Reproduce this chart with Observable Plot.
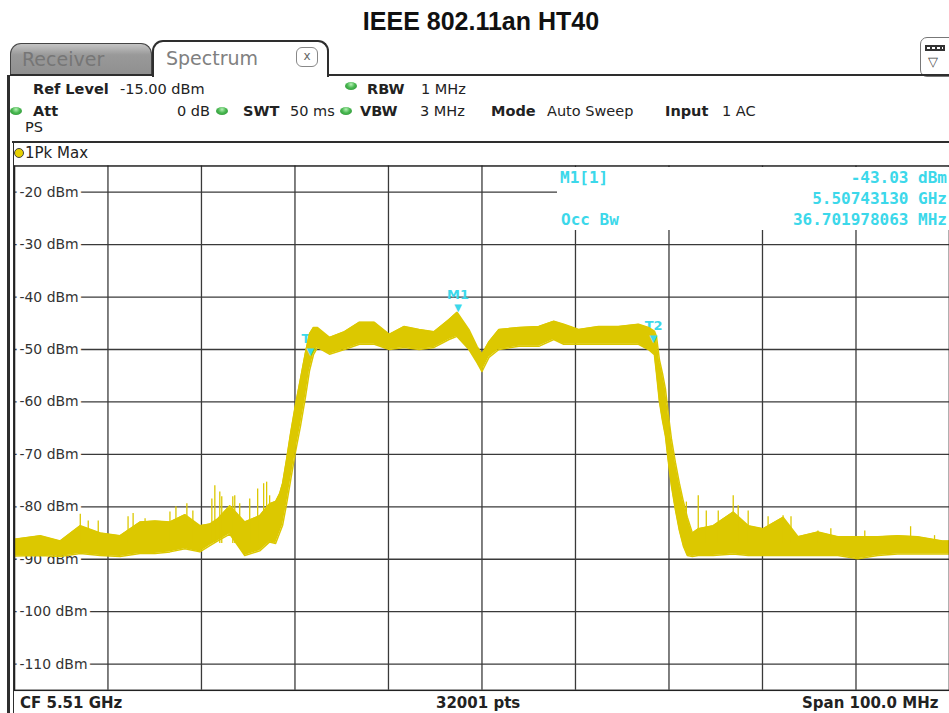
<!DOCTYPE html>
<html><head><meta charset="utf-8">
<script src="https://cdn.jsdelivr.net/npm/d3@7"></script>
<script src="https://cdn.jsdelivr.net/npm/@observablehq/plot@0.6"></script>
<style>
html,body{margin:0;padding:0;background:#fff;overflow:hidden;}
#wrap{position:relative;width:949px;height:713px;overflow:hidden;font-family:"DejaVu Sans",sans-serif;background:#fff;}
#wrap svg{position:absolute;left:0;top:0;}
.t{position:absolute;white-space:nowrap;line-height:1;transform:translateY(-50%);font-size:14.5px;color:#222;}
.b{font-weight:bold;}
.gd{position:absolute;width:12px;height:8px;border-radius:50%;transform:translate(-50%,-50%);
  background:radial-gradient(ellipse at 50% 30%,#b6efb6 0%,#48b850 45%,#2a8a33 100%);}
.ln{position:absolute;background:#2e2e2e;}
.cy{position:absolute;white-space:nowrap;line-height:1;transform:translateY(-50%);font-family:"DejaVu Sans Mono",monospace;font-weight:bold;font-size:16px;color:#3cd8ea;}
</style></head>
<body><div id="wrap"></div>
<script>
// ---- data ----
const xTicks = [5.46, 5.47, 5.48, 5.49, 5.50, 5.51, 5.52, 5.53, 5.54, 5.55, 5.56]; // GHz, 10 MHz/div
const yTicks = [-20, -30, -40, -50, -60, -70, -80, -90, -100, -110];              // dBm
const yDomain = [-115, -15];

// trace envelope (GHz, lower dBm, upper dBm)
const bandFreq = [5.46000,5.46277,5.46490,5.46704,5.46917,5.47130,5.47343,5.47503,5.47663,5.47823,
  5.47983,5.48090,5.48175,5.48303,5.48463,5.48623,5.48729,5.48793,5.48836,5.48868,
  5.48910,5.48953,5.49006,5.49060,5.49113,5.49156,5.49198,5.49241,5.49369,5.49529,
  5.49689,5.49849,5.50009,5.50168,5.50328,5.50488,5.50648,5.50733,5.50861,5.50947,
  5.51000,5.51075,5.51181,5.51394,5.51608,5.51768,5.51874,5.52034,5.52247,5.52461,
  5.52674,5.52780,5.52844,5.52866,5.52898,5.52930,5.52962,5.52994,5.53026,5.53068,
  5.53111,5.53154,5.53196,5.53250,5.53313,5.53473,5.53687,5.53847,5.54006,5.54220,
  5.54380,5.54593,5.54806,5.55019,5.55232,5.55446,5.55659,5.55925,5.56000];
const bandLo = [-89.4,-89.3,-89.5,-88.9,-89.3,-89.5,-88.9,-88.9,-88.6,-88.0,
  -88.6,-87.4,-86.5,-85.2,-89.3,-88.4,-86.7,-87.0,-85.0,-83.5,
  -79.5,-75.0,-69.5,-64.5,-59.0,-54.0,-51.0,-49.6,-50.9,-50.0,
  -49.0,-49.0,-50.0,-49.6,-50.0,-49.6,-48.1,-47.5,-50.0,-52.5,
  -54.2,-51.5,-50.0,-49.4,-49.4,-48.1,-49.0,-49.0,-49.0,-49.0,
  -49.0,-50.0,-51.0,-54.5,-60.0,-63.5,-66.5,-71.5,-76.0,-80.5,
  -84.5,-87.5,-89.3,-89.5,-89.3,-89.3,-89.0,-89.3,-89.3,-89.3,
  -89.3,-89.3,-89.3,-89.9,-89.3,-89.0,-89.0,-89.0,-89.0];
const bandHi = [-86.2,-85.5,-86.5,-83.6,-85.0,-85.5,-82.9,-82.7,-82.9,-81.5,
  -83.6,-83.3,-82.3,-79.8,-82.9,-81.7,-79.4,-79.0,-77.5,-75.5,
  -71.0,-66.0,-60.5,-55.5,-50.5,-47.0,-45.8,-45.8,-47.7,-46.6,
  -44.8,-44.8,-47.1,-45.6,-46.2,-46.6,-44.3,-42.9,-46.2,-49.4,
  -50.9,-48.5,-46.2,-45.8,-45.6,-44.6,-45.2,-46.2,-45.6,-45.6,
  -45.2,-45.8,-46.5,-47.5,-52.0,-54.5,-57.5,-62.5,-67.0,-71.5,
  -75.5,-79.0,-82.0,-85.0,-84.2,-83.6,-81.0,-83.6,-84.2,-82.0,
  -85.7,-84.8,-85.7,-85.7,-85.7,-85.5,-85.7,-86.5,-86.5];

// noise spikes above the floor (GHz, peak dBm)
const spikeFreq = [5.46704,5.46789,5.46896,5.47215,5.47269,5.47397,5.47663,5.47727,5.47844,5.47908,
  5.48111,5.48143,5.48196,5.48217,5.48335,5.48356,5.48409,5.48516,5.48601,5.48665,5.48697,5.48729,
  5.53186,5.53313,5.53399,5.53527,5.53687,5.53740,5.53847,5.54060,5.54220,5.54305,
  5.54593,5.54731,5.55094,5.55584,5.55840];
const spikeTop = [-81.4,-82.7,-82.7,-81.9,-81.3,-82.3,-81.0,-80.0,-79.4,-80.8,
  -78.5,-76.0,-77.2,-78.1,-78.1,-77.9,-79.4,-78.5,-76.6,-75.6,-75.3,-77.9,
  -79.1,-77.9,-80.8,-80.8,-77.9,-79.8,-80.8,-81.9,-81.7,-81.9,
  -84.6,-84.2,-84.6,-83.8,-85.5];
const spikeBase = -87;

// markers
const markerNames = ["M1", "T1", "T2"];
const markerFreq = [5.5074313, 5.49166, 5.52836];
const markerLevel = [-43.03, -51.3, -49.0];

// ---- build tables ----
const band = bandFreq.map((f, i) => ({f, lo: bandLo[i], hi: bandHi[i]}));
const spikes = spikeFreq.map((f, i) => ({f, top: spikeTop[i]}));
const markers = markerNames.map((name, i) => ({name, f: markerFreq[i], v: markerLevel[i]}));

const YEL = "#dcc800", CY = "#3cd8ea", GRID = "#3a3a3a";

const chart = Plot.plot({
  width: 952, height: 713,
  marginLeft: 14, marginRight: 0, marginTop: 166, marginBottom: 21,
  x: {domain: [xTicks[0], xTicks[xTicks.length - 1]], axis: null},
  y: {domain: yDomain, axis: null},
  style: {background: "transparent", fontFamily: "DejaVu Sans", overflow: "visible"},
  marks: [
    Plot.ruleX(xTicks, {stroke: GRID, strokeWidth: 1.3}),
    Plot.ruleY(yTicks, {stroke: GRID, strokeWidth: 1.3}),
    Plot.text(yTicks, {y: d => d, frameAnchor: "left", dx: 5, text: d => `${d} dBm`, textAnchor: "start",
      fill: "#333", stroke: "white", strokeWidth: 7, fontSize: 14}),
    Plot.text(markers, {x: "f", y: "v", text: "name", dy: -18, fill: CY, fontSize: 13, fontWeight: "bold"}),
    Plot.areaY(band, {x: "f", y1: "lo", y2: "hi", fill: YEL}),
    Plot.line(band, {x: "f", y: "hi", stroke: YEL, strokeWidth: 1.5}),
    Plot.line(band, {x: "f", y: "lo", stroke: YEL, strokeWidth: 1.5}),
    Plot.ruleX(spikes, {x: "f", y1: spikeBase, y2: "top", stroke: YEL, strokeWidth: 1.3}),
    Plot.text(markers, {x: "f", y: "v", text: () => "▼", dy: -5, fill: CY, fontSize: 10}),
    Plot.frame({stroke: "#222", strokeWidth: 1.5})
  ]
});

const wrap = document.getElementById("wrap");
wrap.appendChild(chart);

function add(html) { wrap.insertAdjacentHTML("beforeend", html); }
function txt(x, y, s, cls = "", style = "") { add(`<div class="t ${cls}" style="left:${x}px;top:${y}px;${style}">${s}</div>`); }
function gdot(x, y) { add(`<div class="gd" style="left:${x}px;top:${y}px"></div>`); }

// title
add(`<div style="position:absolute;left:481px;top:21px;transform:translate(-50%,-50%);font-family:'Liberation Sans',Arial,sans-serif;font-weight:bold;font-size:25px;color:#111;white-space:nowrap;line-height:1">IEEE 802.11an HT40</div>`);

// tabs
add(`<div style="position:absolute;left:10px;top:43px;width:142px;height:32px;border:1.5px solid #444;border-bottom:none;border-radius:11px 11px 0 0;background:linear-gradient(#c4c4c4 0%,#999 35%,#8f8f8f 100%);box-sizing:border-box"></div>`);
txt(22, 59, "Receiver", "", "font-size:19px;color:#767676");
add(`<div style="position:absolute;left:152px;top:40px;width:177px;height:37px;border:2px solid #2e2e2e;border-bottom:none;border-radius:11px 11px 0 0;background:#fff;box-sizing:border-box"></div>`);
txt(166, 58, "Spectrum", "", "font-size:19px;color:#808080");
add(`<div style="position:absolute;left:296px;top:47px;width:22px;height:20px;border:1.3px solid #888;border-radius:6px;box-sizing:border-box;font-size:12px;color:#666;text-align:center;line-height:17px">x</div>`);
add(`<div style="position:absolute;left:920px;top:37px;width:40px;height:40px;border:1.5px solid #777;border-radius:7px;box-sizing:border-box;background:#fff"></div>`);
add(`<div style="position:absolute;left:925px;top:45px;width:20px;height:6px;border:2px solid #333;box-sizing:border-box;background:repeating-linear-gradient(90deg,#fff 0 3px,#333 3px 5px)"></div>`);
txt(928, 61, "▽", "", "font-size:13px;color:#444");

// frame lines
add(`<div class="ln" style="left:10px;top:74px;width:143px;height:2px"></div>`);
add(`<div class="ln" style="left:328px;top:74px;width:621px;height:2px"></div>`);
add(`<div class="ln" style="left:7px;top:75px;width:3px;height:638px"></div>`);
add(`<div class="ln" style="left:12px;top:141px;width:937px;height:2px"></div>`);
add(`<div class="ln" style="left:12.5px;top:141px;width:1.5px;height:572px"></div>`);

// header info
txt(33, 89, "Ref Level", "b"); txt(120, 89, "-15.00 dBm");
gdot(351, 86); txt(367, 89, "RBW", "b"); txt(421, 89, "1 MHz");
gdot(16, 111); txt(33, 111, "Att", "b"); txt(177, 111, "0 dB");
gdot(222, 111); txt(243, 111, "SWT", "b"); txt(290, 111, "50 ms");
gdot(346, 111); txt(360, 111, "VBW", "b"); txt(420, 111, "3 MHz");
txt(491, 111, "Mode", "b"); txt(547, 111, "Auto Sweep");
txt(665, 111, "Input", "b"); txt(722, 111, "1 AC");
txt(25, 127, "PS");

// trace label row
add(`<div style="position:absolute;left:14px;top:148px;width:10px;height:10px;border-radius:50%;background:#e6d000;border:1.2px solid #444;box-sizing:border-box"></div>`);
txt(25, 153, "1Pk Max", "", "font-size:15px");

// marker info panel
add(`<div style="position:absolute;left:557px;top:167px;width:395px;height:63px;background:#fff"></div>`);
add(`<div class="cy" style="left:560px;top:178px">M1[1]</div>`);
add(`<div class="cy" style="right:2px;top:178px">-43.03 dBm</div>`);
add(`<div class="cy" style="right:2px;top:199px">5.50743130 GHz</div>`);
add(`<div class="cy" style="left:561px;top:220px">Occ Bw</div>`);
add(`<div class="cy" style="right:2px;top:220px">36.701978063 MHz</div>`);

// footer
txt(20, 703, "CF 5.51 GHz", "b", "font-size:15px");
txt(436, 703, "32001 pts", "b", "font-size:15px");
txt(802, 703, "Span 100.0 MHz", "b", "font-size:15px");
</script>
</body></html>
